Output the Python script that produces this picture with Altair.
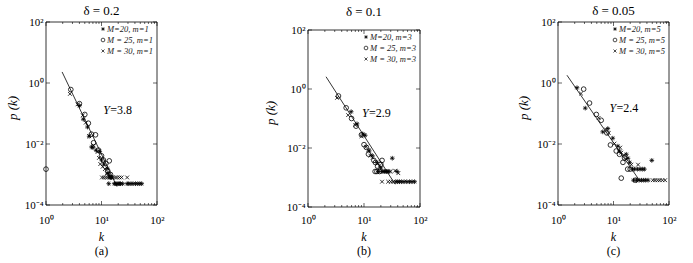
import altair as alt
import pandas as pd

# ---------------- data ----------------
SERIES = ["M=20", "M=25", "M=30"]

# panel (a)  delta = 0.2, m = 1
A20_K = [4.0, 4.7, 5.6, 6.0, 6.6, 7.0, 8.0, 9.3, 10.0, 11.0, 12.7, 13.0, 14.0, 14.5, 15.0,
         13.5, 17, 18, 19, 20, 21, 22, 24, 29, 31, 34, 37, 41, 45, 49, 53]
A20_P = [0.18, 0.065, 0.036, 0.018, 0.008, 0.0076, 0.0062, 0.0056, 0.003, 0.0022, 0.0016, 0.0011,
         0.0009, 0.0008, 0.0008,
         0.0005, 0.0005, 0.0005, 0.0005, 0.0005, 0.0005, 0.0005, 0.0005, 0.0005, 0.0005, 0.0005,
         0.0005, 0.0005, 0.0005, 0.0005, 0.0005]
A25_K = [1.0, 2.8, 4.0, 5.0, 5.8, 6.6, 7.8, 7.2, 8.8, 10.0, 10.8, 12.0, 13.8, 13.0, 14.5]
A25_P = [0.0015, 0.61, 0.21, 0.093, 0.048, 0.021, 0.02, 0.011, 0.0063, 0.0041, 0.003, 0.0023,
         0.0028, 0.0013, 0.001]
A30_K = [2.7, 3.7, 4.6, 5.2, 6.0, 7.2, 8.5, 9.0, 9.5, 10.5, 11.5, 12.5,
         10.2, 11.0, 12.0, 13.0, 14.0, 15.0, 16.0, 17.5, 19.0, 21.0, 23.0, 29.0]
A30_P = [0.44, 0.2, 0.087, 0.05, 0.018, 0.009, 0.0055, 0.0035, 0.0022, 0.0018, 0.0015, 0.0011,
         0.0008, 0.0008, 0.0008, 0.0008, 0.0008, 0.0008, 0.0008, 0.0008, 0.0008, 0.0008, 0.0008, 0.0008]
A_LINE_K = [1.95, 19.0]
A_LINE_P = [2.3, 0.0004]

# panel (b)  delta = 0.1, m = 3
B20_K = [5.9, 7.5, 9.5, 10.5, 12.4, 14.0, 17.0, 20.0, 32.0,
         18.0, 21.0, 23.0, 25.0, 27.0, 39.0,
         37.0, 40.0, 43.0, 47.0, 52.0, 58.0, 65.0, 72.0, 80.0]
B20_P = [0.17, 0.066, 0.03, 0.027, 0.008, 0.0055, 0.0032, 0.0021, 0.0045,
         0.0016, 0.0016, 0.0016, 0.0016, 0.0016, 0.0016,
         0.00072, 0.00072, 0.00072, 0.00072, 0.00072, 0.00072, 0.00072, 0.00072, 0.00072]
B25_K = [3.5, 4.8, 6.0, 7.2, 9.0, 10.0, 11.0, 12.0, 15.0, 16.0, 17.5, 20.0, 21.0, 15.8, 17.0, 19.0]
B25_P = [0.58, 0.23, 0.1, 0.055, 0.028, 0.013, 0.0105, 0.0062, 0.0038, 0.0032, 0.0024, 0.0028,
         0.0038, 0.0016, 0.0016, 0.0016]
B30_K = [3.3, 5.2, 7.0, 9.0, 11.0, 12.0, 14.3, 13.0, 19.0, 22.0, 24.0, 26.0, 28.0, 30.0, 36.0, 41.0,
         21.0, 27.0, 30.0, 33.0]
B30_P = [0.5, 0.13, 0.06, 0.025, 0.011, 0.0085, 0.0047, 0.0055, 0.0025, 0.0016, 0.0016, 0.0016,
         0.0016, 0.0016, 0.0017, 0.0014, 0.00072, 0.00072, 0.00072, 0.00072]
B_LINE_K = [2.1, 36.0]
B_LINE_P = [2.6, 0.00059]

# panel (c)  delta = 0.05, m = 5
C20_K = [2.2, 3.1, 6.4, 7.9, 9.7, 12.0, 12.8, 17.0, 18.2, 19.5, 49.0,
         22.0, 24.0, 27.0, 30.0, 33.0, 36.0,
         23.0, 26.0, 29.0, 32.0, 35.0, 38.0, 42.0]
C20_P = [0.7, 0.15, 0.025, 0.032, 0.0155, 0.0085, 0.0059, 0.0046, 0.0034, 0.0025, 0.0029,
         0.0015, 0.0015, 0.0015, 0.0015, 0.0015, 0.0015,
         0.00065, 0.00065, 0.00065, 0.00065, 0.00065, 0.00065, 0.00065]
C25_K = [2.9, 3.7, 4.9, 6.0, 7.6, 8.8, 11.2, 12.8, 15.8, 14.8, 18.0, 20.0, 13.8, 25.0]
C25_P = [0.63, 0.22, 0.093, 0.06, 0.023, 0.0093, 0.0059, 0.0046, 0.0035, 0.0025, 0.0015, 0.0015,
         0.00076, 0.00065]
C30_K = [2.6, 5.4, 7.3, 8.2, 10.4, 13.2, 13.8, 15.2, 17.0, 21.0, 27.7,
         51.0, 56.0, 62.0, 68.0, 76.0, 85.0]
C30_P = [0.45, 0.072, 0.03, 0.023, 0.0103, 0.0076, 0.0052, 0.0043, 0.0032, 0.0021, 0.0021,
         0.00065, 0.00065, 0.00065, 0.00065, 0.00065, 0.00065]
C_LINE_K = [1.45, 30.5]
C_LINE_P = [1.8, 0.00058]

TITLES = ["δ = 0.2", "δ = 0.1", "δ = 0.05"]
GAMMAS = ["=3.8", "=2.9", "=2.4"]
GAMMA_AT_K = [10.7, 9.2, 8.5]
GAMMA_AT_P = [0.13, 0.155, 0.15]
SMALL_M = [1, 3, 5]
CAPTIONS = ["(a)", "(b)", "(c)"]
X_TITLE = "k"
Y_TITLE = "p (k)"

X_MAJOR = [1, 10, 100]
X_MINOR = [2, 3, 4, 5, 6, 7, 8, 9, 20, 30, 40, 50, 60, 70, 80, 90]
Y_MAJOR = [0.0001, 0.01, 1, 100]

# ---------------- styling ----------------
FONT = "Liberation Serif"
STAR = "M-1,0L1,0M0,-1L0,1M-0.7,-0.7L0.7,0.7M-0.7,0.7L0.7,-0.7"
XMARK = "M-0.8,-0.8L0.8,0.8M-0.8,0.8L0.8,-0.8"
SHAPES = [STAR, "circle", XMARK]
SUP = "['\u207b\u2074','\u207b\u00b3','\u207b\u00b2','\u207b\u00b9','\u2070','\u00b9','\u00b2']"
LABEL_EXPR = "'10' + " + SUP + "[round(log(datum.value)/LN10)+4]"
H = 185


def panel(i, ks, ps, line_k, line_p, W, ytop, ybot, ytitle_x, ytitle_y, title_y, right_ext):
    rows = []
    for s, kk, pp in zip(SERIES, ks, ps):
        for a, b in zip(kk, pp):
            rows.append({"k": a, "p": b, "s": s})
    df = pd.DataFrame(rows)
    xs = alt.Scale(type="log", domain=[1, 100], nice=False)
    ys = alt.Scale(type="log", domain=[0.0001, 100], nice=False, range=[ybot, ytop])
    common = dict(grid=False, domain=False, tickSize=0, labelFont=FONT, labelFontSize=11,
                  labelColor="black", labelExpr=LABEL_EXPR, labelFlush=False, title=None)
    xaxis = alt.Axis(values=X_MAJOR, labelPadding=7, **common)
    yaxis = alt.Axis(values=Y_MAJOR, labelPadding=3, **common)

    pts = alt.Chart(df).mark_point(filled=False, size=22, strokeWidth=0.8, color="black",
                                   opacity=1).encode(
        x=alt.X("k:Q", scale=xs, axis=xaxis),
        y=alt.Y("p:Q", scale=ys, axis=yaxis),
        shape=alt.Shape("s:N", scale=alt.Scale(domain=SERIES, range=SHAPES), legend=None),
    )
    line = alt.Chart(pd.DataFrame({"k": line_k, "p": line_p})).mark_line(
        color="black", strokeWidth=0.8).encode(
        x=alt.X("k:Q", scale=xs), y=alt.Y("p:Q", scale=ys))

    one = pd.DataFrame({"a": [0]})
    frame = alt.Chart(one).mark_rect(fillOpacity=0, stroke="black", strokeWidth=0.8).encode(
        x=alt.value(0), x2=alt.value(W), y=alt.value(ytop), y2=alt.value(ybot))

    def xticks(vals, y, y2):
        return alt.Chart(pd.DataFrame({"k": vals})).mark_rule(color="black", strokeWidth=0.6).encode(
            x=alt.X("k:Q", scale=xs), y=alt.value(y), y2=alt.value(y2))

    def yticks(x, x2):
        return alt.Chart(pd.DataFrame({"p": Y_MAJOR})).mark_rule(color="black", strokeWidth=0.6).encode(
            y=alt.Y("p:Q", scale=ys), x=alt.value(x), x2=alt.value(x2))

    ticks = [xticks(X_MAJOR, ybot, ybot - 4), xticks(X_MINOR, ybot, ybot - 2),
             xticks(X_MAJOR, ytop, ytop + 4), xticks(X_MINOR, ytop, ytop + 2),
             yticks(0, 4), yticks(W, W - 4)]

    ann = pd.DataFrame({"k": [GAMMA_AT_K[i]], "p": [GAMMA_AT_P[i]]})
    g1 = alt.Chart(ann).mark_text(text="Y", font=FONT, fontSize=12, fontStyle="italic",
                                  align="left", baseline="middle", color="black").encode(
        x=alt.X("k:Q", scale=xs), y=alt.Y("p:Q", scale=ys))
    g2 = alt.Chart(ann).mark_text(text=GAMMAS[i], font=FONT, fontSize=12, align="left",
                                  baseline="middle", dx=7, color="black").encode(
        x=alt.X("k:Q", scale=xs), y=alt.Y("p:Q", scale=ys))

    leg_labels = [f"M=20, m={SMALL_M[i]}", f"M = 25, m={SMALL_M[i]}", f"M = 30, m={SMALL_M[i]}"]
    legend = []
    for j, (shape, lab) in enumerate(zip(SHAPES, leg_labels)):
        yy = ytop + 7 + 11 * j
        legend.append(alt.Chart(one).mark_point(shape=shape, filled=False, size=14, strokeWidth=0.7,
                                                color="black", opacity=1).encode(
            x=alt.value(W - 54), y=alt.value(yy)))
        legend.append(alt.Chart(one).mark_text(text=lab, font=FONT, fontSize=8.5, fontStyle="italic",
                                               align="left", baseline="middle", color="#222").encode(
            x=alt.value(W - 50), y=alt.value(yy)))

    def label(text, x, y, size=13, style="normal", angle=0):
        return alt.Chart(one).mark_text(text=text, font=FONT, fontSize=size, fontStyle=style,
                                        align="center", baseline="middle", color="black",
                                        angle=angle).encode(x=alt.value(x), y=alt.value(y))

    texts = [
        label(TITLES[i], W / 2, title_y),
        label(X_TITLE, W / 2, H + 30, size=12, style="italic"),
        label(CAPTIONS[i], W / 2, H + 44, size=12),
        label(Y_TITLE, ytitle_x, ytitle_y, style="italic", angle=270),
    ]
    layers = [pts, line, frame, *ticks, g1, g2, *legend, *texts]
    if right_ext:
        layers.append(alt.Chart(one).mark_rule(strokeOpacity=0, color="white").encode(
            x=alt.value(W + right_ext), y=alt.value(H / 2), y2=alt.value(H / 2 + 1)))

    return alt.layer(*layers).properties(width=W, height=H)


pa = panel(0, [A20_K, A25_K, A30_K], [A20_P, A25_P, A30_P], A_LINE_K, A_LINE_P,
           111, 0, 183, -33, 86, -11, 18)
pb = panel(1, [B20_K, B25_K, B30_K], [B20_P, B25_P, B30_P], B_LINE_K, B_LINE_P,
           112, 8, 185, -37, 91, -10, 0)
pc = panel(2, [C20_K, C25_K, C30_K], [C20_P, C25_P, C30_P], C_LINE_K, C_LINE_P,
           111, 0, 183, -34, 86, -11, 0)

chart = alt.hconcat(pa, pb, pc, spacing=90).configure_view(stroke=None).properties(
    padding={"left": 7, "top": 5, "right": 5, "bottom": 5},
    background="white",
)

chart.save("out.html", embed_options={"renderer": "svg", "actions": False})
